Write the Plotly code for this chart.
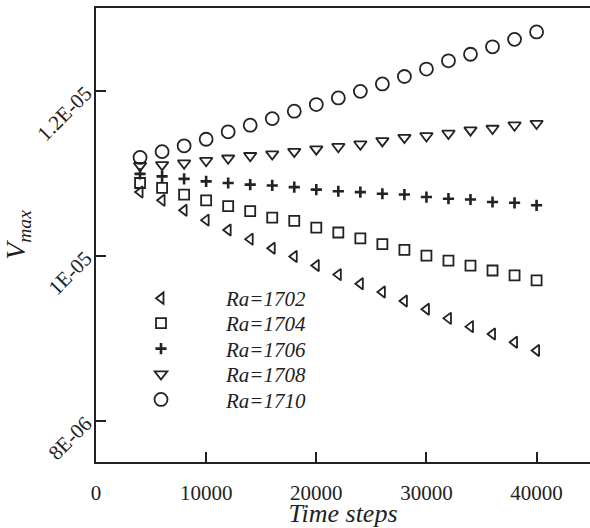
import plotly.graph_objects as go

steps = [4000, 6000, 8000, 10000, 12000, 14000, 16000, 18000, 20000, 22000,
         24000, 26000, 28000, 30000, 32000, 34000, 36000, 38000, 40000]

ra1702 = [10.77, 10.67, 10.55, 10.43, 10.31, 10.20, 10.09, 9.99, 9.88, 9.77,
          9.66, 9.56, 9.45, 9.35, 9.24, 9.14, 9.05, 8.95, 8.85]
ra1704 = [10.88, 10.82, 10.74, 10.67, 10.60, 10.54, 10.46, 10.42, 10.34, 10.28,
          10.21, 10.14, 10.07, 10.00, 9.94, 9.88, 9.82, 9.76, 9.70]
ra1706 = [10.99, 10.96, 10.93, 10.90, 10.88, 10.86, 10.85, 10.83, 10.80, 10.78,
          10.77, 10.75, 10.74, 10.71, 10.69, 10.68, 10.65, 10.64, 10.61]
ra1708 = [11.09, 11.10, 11.12, 11.15, 11.18, 11.21, 11.23, 11.26, 11.29, 11.32,
          11.35, 11.39, 11.43, 11.45, 11.48, 11.52, 11.54, 11.58, 11.60]
ra1710 = [11.19, 11.26, 11.33, 11.41, 11.50, 11.58, 11.66, 11.75, 11.83, 11.91,
          11.99, 12.08, 12.17, 12.26, 12.36, 12.44, 12.53, 12.62, 12.71]

names = ["Ra=1702", "Ra=1704", "Ra=1706", "Ra=1708", "Ra=1710"]
series = [ra1702, ra1704, ra1706, ra1708, ra1710]
symbols = ["triangle-left-open", "square-open", "cross-thin-open", "triangle-down-open", "circle-open"]
sizes = [10, 10, 8, 11, 13]
widths = [1.8, 1.8, 2.6, 1.8, 1.8]
legend_rows = [0.360, 0.305, 0.249, 0.193, 0.137]

ytick_vals = [8e-6, 1e-5, 1.2e-5]
ytick_text = ["8E-06", "1E-05", "1.2E-05"]
xtick_vals = [0, 10000, 20000, 30000, 40000]
xtick_text = ["0", "10000", "20000", "30000", "40000"]

ink = "#222222"
serif = "Liberation Serif, Times New Roman, serif"

fig = go.Figure()
legend_layouts = {}
for i, (name, vals, sym, sz, lw, ly) in enumerate(zip(names, series, symbols, sizes, widths, legend_rows)):
    key = "legend" if i == 0 else f"legend{i + 1}"
    fig.add_trace(go.Scatter(
        x=steps, y=[v * 1e-6 for v in vals], mode="markers", name=name,
        legend=key,
        marker=dict(symbol=sym, size=sz, color=ink,
                    line=dict(color=ink, width=lw)),
    ))
    legend_layouts[key] = dict(
        x=0.0, y=ly, xanchor="left", yanchor="middle",
        bgcolor="rgba(0,0,0,0)",
        font=dict(family=serif, size=21, style="italic", color=ink),
        itemwidth=120,
    )

fig.update_layout(
    width=590, height=528,
    margin=dict(l=95.5, r=0, t=8, b=66, autoexpand=False),
    plot_bgcolor="white", paper_bgcolor="white",
    font=dict(family=serif, color=ink),
    showlegend=True,
    xaxis=dict(
        range=[0, 44850], tickvals=xtick_vals, ticktext=xtick_text,
        automargin=False,
        showline=True, linecolor=ink, linewidth=2, mirror=True,
        ticks="inside", ticklen=10, tickwidth=2, tickcolor=ink,
        tickfont=dict(size=21, family=serif, color=ink),
        ticklabelstandoff=11,
        showgrid=False, zeroline=False,
        title=dict(text="Time steps", font=dict(size=26, family=serif, style="italic", color=ink), standoff=9),
    ),
    yaxis=dict(
        range=[7.5e-6, 1.3e-5], tickvals=ytick_vals, ticktext=ytick_text,
        tickangle=-45, automargin=False,
        showline=True, linecolor=ink, linewidth=2,
        ticks="inside", ticklen=10, tickwidth=2, tickcolor=ink,
        tickfont=dict(size=21, family=serif, color=ink),
        ticklabelstandoff=4,
        showgrid=False, zeroline=False,
        title=dict(text="V<sub>max</sub>", font=dict(size=28, family=serif, style="italic", color=ink), standoff=6),
    ),
    **legend_layouts,
)

fig.write_html("out.html")
